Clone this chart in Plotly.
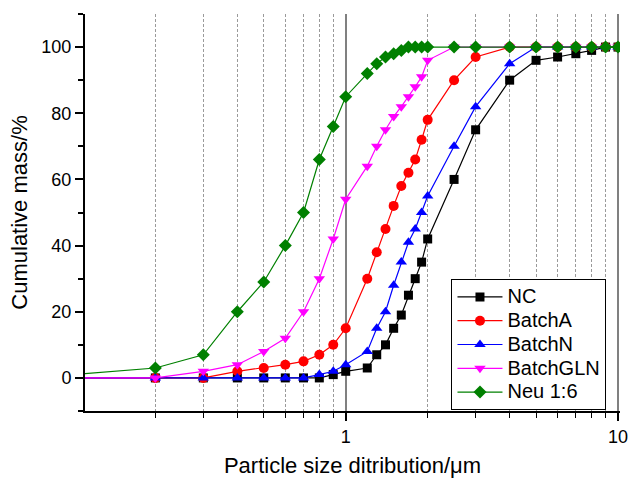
import plotly.graph_objects as go

# Particle sizes (µm)
x_main = [0.1, 0.2, 0.3, 0.4, 0.5, 0.6, 0.7, 0.8, 0.9, 1.0, 1.2, 1.3, 1.4, 1.5, 1.6,
          1.7, 1.8, 1.9, 2.0, 2.5, 3, 4, 5, 6, 7, 8, 9, 10]

nc =       [0, 0, 0, 0, 0, 0, 0, 0, 1, 2, 3, 7, 10, 15, 19,
            25, 30, 35, 42, 60, 75, 90, 96, 97, 98, 99, 100, 100]
batch_a =  [0, 0, 0, 2, 3, 4, 5, 7, 10, 15, 30, 38, 45, 52, 58,
            62, 66, 72, 78, 90, 97, 100, 100, 100, 100, 100, 100, 100]
batch_n =  [0, 0, 0, 0, 0, 0, 0, 1, 2, 4, 8, 15, 20, 28, 35,
            41, 45, 50, 55, 70, 82, 95, 100, 100, 100, 100, 100, 100]
batch_gln = [0, 0, 2, 4, 8, 12, 20, 30, 42, 54, 64, 70, 75, 79, 82,
             85, 88, 91, 96, 100, 100, 100, 100, 100, 100, 100, 100, 100]
neu_16 =   [1, 3, 7, 20, 29, 40, 50, 66, 76, 85, 92, 95, 97, 98, 99,
            100, 100, 100, 100, 100, 100, 100, 100, 100, 100, 100, 100, 100]

series_names = ["NC", "BatchA", "BatchN", "BatchGLN", "Neu 1:6"]
series_vals = [nc, batch_a, batch_n, batch_gln, neu_16]
colors = ["#000000", "#FF0000", "#0000FF", "#FF00FF", "#008000"]
symbols = ["square", "circle", "triangle-up", "triangle-down", "diamond"]
sizes = [9, 10, 10, 10, 10]

x_major_ticks = [1, 10]
x_major_labels = ["1", "10"]
x_minor_ticks = [0.2, 0.3, 0.4, 0.5, 0.6, 0.7, 0.8, 0.9, 2, 3, 4, 5, 6, 7, 8, 9]

fig = go.Figure()
for name, vals, c, s, sz in zip(series_names, series_vals, colors, symbols, sizes):
    fig.add_trace(go.Scatter(
        x=x_main, y=vals, name="<span style='font-size:20px'>%s</span>" % name,
        mode="lines+markers",
        line=dict(color=c, width=1.2),
        marker=dict(symbol=s, size=sz, color=c, line=dict(width=0)),
    ))

font = "Liberation Sans, Arial, sans-serif"
fig.update_layout(
    width=629, height=478,
    margin=dict(l=85, r=9, t=14, b=67),
    paper_bgcolor="white", plot_bgcolor="white",
    font=dict(family=font, size=18, color="black"),
    legend=dict(
        x=0.685, y=0.3325, xanchor="left", yanchor="top",
        bgcolor="white", bordercolor="black", borderwidth=1,
        font=dict(size=16, family=font), tracegroupgap=0, itemwidth=45,
    ),
    xaxis=dict(
        type="log", range=[-0.9574, 1.0073], automargin=False,
        title=dict(text="Particle size ditribution/μm", font=dict(size=22), standoff=12),
        tickmode="array", tickvals=x_major_ticks, ticktext=x_major_labels,
        tickfont=dict(size=18),
        ticks="outside", ticklen=8, tickwidth=1.5, tickcolor="black",
        showline=True, linecolor="black", linewidth=2,
        showgrid=True, gridcolor="#808080", gridwidth=2,
        zeroline=False,
        minor=dict(tickmode="array", tickvals=x_minor_ticks, ticks="outside",
                   ticklen=5, tickwidth=1, tickcolor="black",
                   showgrid=True, gridcolor="#9a9a9a", gridwidth=1, griddash="3px,2px"),
    ),
    yaxis=dict(
        range=[-10, 110], automargin=False,
        title=dict(text="Cumulative mass/%", font=dict(size=22), standoff=8),
        tickmode="linear", tick0=0, dtick=20,
        tickfont=dict(size=18),
        ticks="outside", ticklen=8, tickwidth=1.5, tickcolor="black",
        showline=True, linecolor="black", linewidth=2,
        showgrid=False, zeroline=False,
        minor=dict(tickmode="linear", tick0=-10, dtick=20, ticks="outside",
                   ticklen=5, tickwidth=1.5, tickcolor="black", showgrid=False),
    ),
)

fig.write_html(
    "out.html",
    config={"displayModeBar": False},
    post_script="document.body.style.margin='0px'; document.body.style.overflow='hidden';",
)
